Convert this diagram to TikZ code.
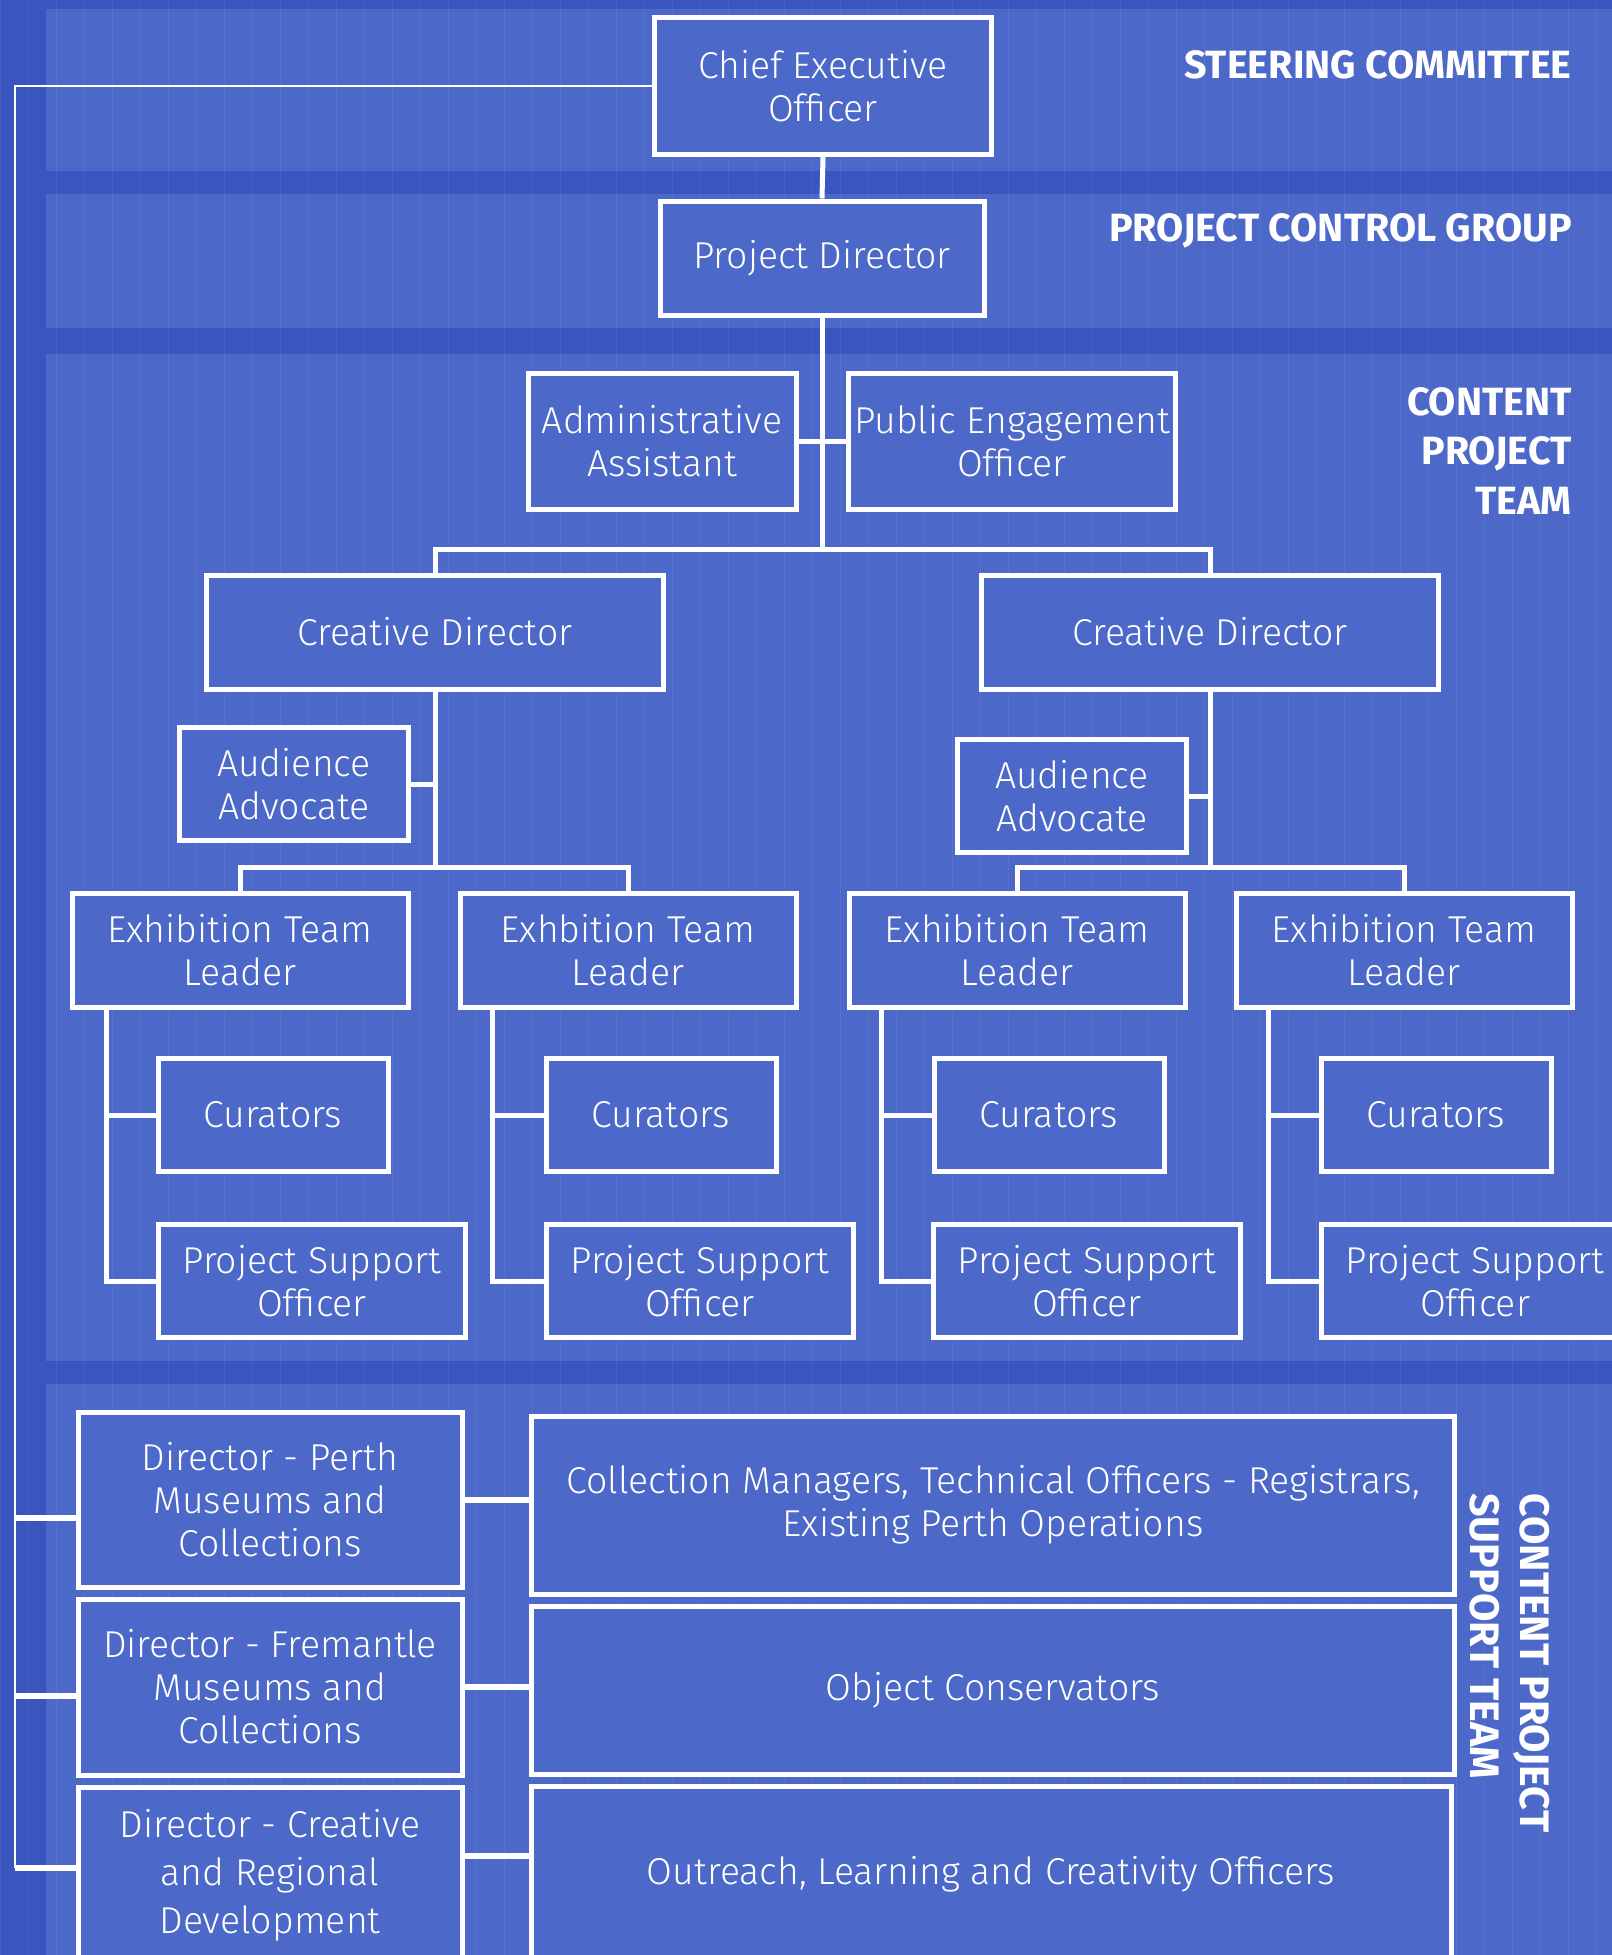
\documentclass[tikz,border=0pt]{standalone}
\usepackage{fontspec}
\setmainfont{Fira Sans Light}[BoldFont=Fira Sans Bold]
\definecolor{bgblue}{RGB}{58,86,190}
\definecolor{bandblue}{RGB}{76,104,201}
\begin{document}
\begin{tikzpicture}[x=0.5pt,y=-0.5pt,
    box/.style 2 args={draw=white,line width=2.5pt,fill=bandblue,text=white,align=center,
        inner sep=0pt,minimum width=#1*0.5pt,minimum height=#2*0.5pt,
        font=\fontsize{18.7}{21.5}\selectfont},
    link/.style={draw=white,line width=2.5pt},
    spine/.style={draw=white,line width=1pt},
    stub/.style={draw=white,line width=3pt},
    band/.style={text=white,font=\bfseries\fontsize{19.7}{24.75}\selectfont,inner sep=0pt}]
    \useasboundingbox (0,0) rectangle (1612,1955);
    \clip (0,0) rectangle (1612,1955);
    % background and bands
    \fill[bgblue] (0,0) rectangle (1612,1955);
    \fill[bandblue] (46,9) rectangle (1612,171);
    \fill[bandblue] (46,194) rectangle (1612,328);
    \fill[bandblue] (46,354) rectangle (1612,1361);
    \fill[bandblue] (46,1384) rectangle (1612,1955);
    \draw[white,opacity=0.06,line width=0.5pt,step=28] (0,0) grid (1612,1955);
    % band titles
    \node[band,anchor=east] (steer) at (1572,65) {STEERING COMMITTEE};
    \node[band,anchor=east] (control) at (1572,231) {PROJECT CONTROL GROUP};
    \node[band,anchor=east,align=right] (content) at (1572,451) {CONTENT\\PROJECT\\TEAM};
    \node[band,rotate=-90,anchor=north west,align=left,font=\bfseries\fontsize{20.6}{25}\selectfont] (support) at (1550,1493) {CONTENT PROJECT\\SUPPORT TEAM};
    % top of the chart
    \node[box={337}{137}] (ceo) at (823,86) {Chief Executive\\Officer};
    \node[box={324}{114}] (pd) at (822,258) {Project Director};
    \node[box={268}{136}] (adm) at (662,441) {Administrative\\Assistant};
    \node[box={327}{136}] (pea) at (1012,441) {Public Engagement\\Officer};
    \node[box={457}{114}] (cdl) at (435,632) {Creative Director};
    \node[box={457}{114}] (cdr) at (1210,632) {Creative Director};
    \node[box={229}{113}] (aal) at (294,784) {Audience\\Advocate};
    \node[box={229}{113}] (aar) at (1072,796) {Audience\\Advocate};
    % exhibition teams
    \node[box={336}{114}] (etla) at (240,950) {Exhibition Team\\Leader};
    \node[box={336}{114}] (etlb) at (628,950) {Exhbition Team\\Leader};
    \node[box={336}{114}] (etlc) at (1017,950) {Exhibition Team\\Leader};
    \node[box={336}{114}] (etld) at (1404,950) {Exhibition Team\\Leader};
    \node[box={230}{113}] (cura) at (273,1115) {Curators};
    \node[box={230}{113}] (curb) at (661,1115) {Curators};
    \node[box={230}{113}] (curc) at (1049,1115) {Curators};
    \node[box={230}{113}] (curd) at (1436,1115) {Curators};
    \node[box={307}{113}] (psoa) at (312,1281) {Project Support\\Officer};
    \node[box={307}{113}] (psob) at (700,1281) {Project Support\\Officer};
    \node[box={307}{113}] (psoc) at (1087,1281) {Project Support\\Officer};
    \node[box={307}{113}] (psod) at (1475,1281) {Project Support\\Officer};
    % support team
    \node[box={384}{175}] (dpe) at (270,1500) {Director - Perth\\Museums and\\Collections};
    \node[box={384}{176}] (dfr) at (270,1687) {Director - Fremantle\\Museums and\\Collections};
    \node[box={384}{175},font=\fontsize{18.7}{24}\selectfont] (dcr) at (270,1875) {Director - Creative\\and Regional\\Development};
    \node[box={923}{178}] (col) at (993,1505) {Collection Managers, Technical Officers - Registrars,\\Existing Perth Operations};
    \node[box={923}{168}] (obj) at (993,1690) {Object Conservators};
    \node[box={920}{175}] (out) at (991,1874) {Outreach, Learning and Creativity Officers};
    % connectors
    \draw[link] (ceo.south) -- (pd.north);
    \coordinate (hub) at (822,550);
    \draw[link] (pd.south) -- (hub);
    \draw[link] (adm.east) -- (pea.west);
    \draw[link] (cdl.north) -- ++(0,-23) -| (cdr.north);
    \draw[link] (cdl.south) -- ++(0,175);
    \draw[link] (cdr.south) -- ++(0,175);
    \draw[link] (aal.east) -- (aal.east -| cdl.south);
    \draw[link] (aar.east) -- (aar.east -| cdr.south);
    \draw[link] (etla.north) -- ++(0,-23) -| (etlb.north);
    \draw[link] (etlc.north) -- ++(0,-23) -| (etld.north);
    \draw[link] (etla.south west) ++(37,0) |- (cura.west);
    \draw[link] (etla.south west) ++(37,0) |- (psoa.west);
    \draw[link] (etlb.south west) ++(35,0) |- (curb.west);
    \draw[link] (etlb.south west) ++(35,0) |- (psob.west);
    \draw[link] (etlc.south west) ++(35,0) |- (curc.west);
    \draw[link] (etlc.south west) ++(35,0) |- (psoc.west);
    \draw[link] (etld.south west) ++(35,0) |- (curd.west);
    \draw[link] (etld.south west) ++(35,0) |- (psod.west);
    \coordinate (spineend) at (15,1868);
    \draw[spine] (ceo.west) -| (spineend);
    \draw[stub] ([yshift=-9pt]dpe.west) -- ([yshift=-9pt]dpe.west -| spineend);
    \draw[stub] ([yshift=-4.5pt]dfr.west) -- ([yshift=-4.5pt]dfr.west -| spineend);
    \draw[stub] ([yshift=3.5pt]dcr.west) -- ([yshift=3.5pt]dcr.west -| spineend);
    \draw[stub] (dpe.east) -- (dpe.east -| col.west);
    \draw[stub] (dfr.east) -- (dfr.east -| obj.west);
    \draw[stub] ([yshift=9.5pt]dcr.east) -- ([yshift=9.5pt]dcr.east -| out.west);
\end{tikzpicture}
\end{document}
